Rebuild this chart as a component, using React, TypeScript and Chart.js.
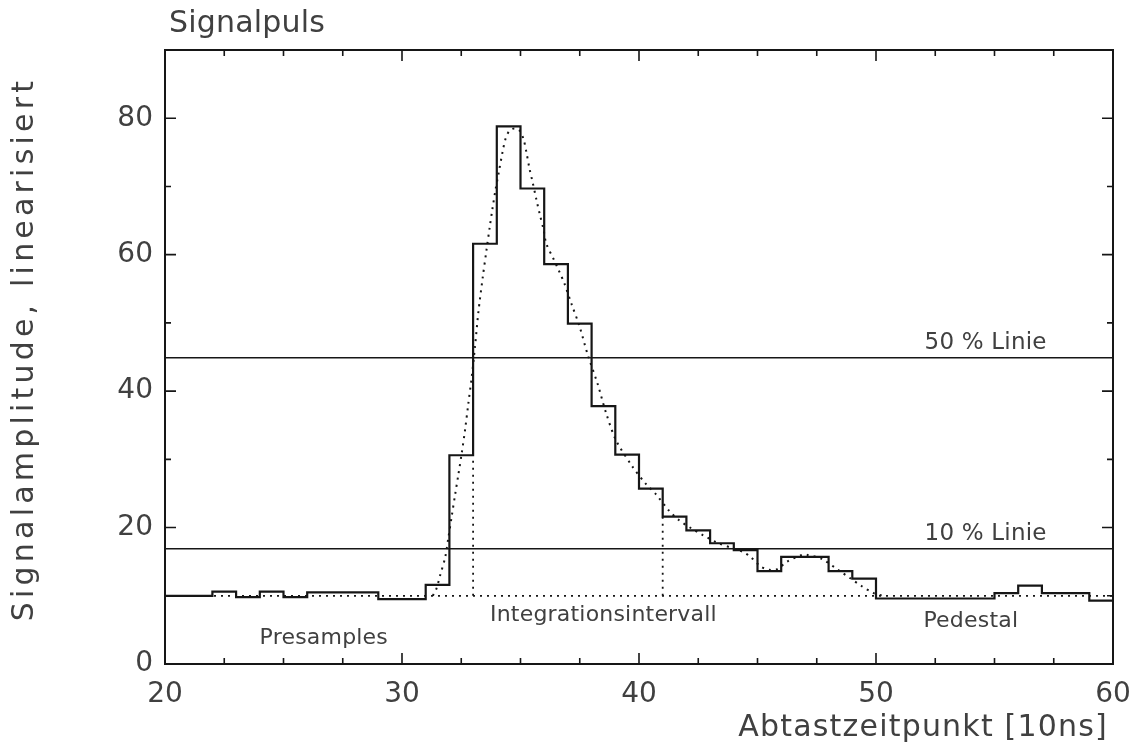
import React, { useEffect, useRef } from 'react';
import { Chart, registerables } from 'chart.js';

Chart.register(...registerables);

// ---- data ----
const sampleTimes = [
  20, 21, 22, 23, 24, 25, 26, 27, 28, 29,
  30, 31, 32, 33, 34, 35, 36, 37, 38, 39,
  40, 41, 42, 43, 44, 45, 46, 47, 48, 49,
  50, 51, 52, 53, 54, 55, 56, 57, 58, 59,
];
const amplitude = [
  10.0, 10.0, 10.6, 9.8, 10.6, 9.8, 10.5, 10.5, 10.5, 9.5,
  9.5, 11.6, 30.6, 61.6, 78.8, 69.7, 58.6, 49.9, 37.8, 30.7,
  25.7, 21.6, 19.6, 17.7, 16.7, 13.6, 15.7, 15.7, 13.6, 12.5,
  9.6, 9.6, 9.6, 9.6, 9.6, 10.4, 11.5, 10.4, 10.4, 9.3,
];
const histEnd = 60;

const fitX = [
  31.3, 31.45, 31.61, 31.82, 31.96, 32.1, 32.24, 32.38, 32.52, 32.66,
  32.8, 32.94, 33.08, 33.22, 33.4, 33.57, 33.7, 33.82, 33.95, 34.08,
  34.24, 34.37, 34.54, 34.75, 34.96, 35.13, 35.25, 35.38, 35.5, 35.67,
  35.8, 35.97, 36.09, 36.39, 36.64, 36.85, 37.15, 37.48, 37.84, 38.26,
  38.61, 39.03, 39.73, 40.29, 40.71, 41.26, 41.68, 42.2, 42.69, 43.3,
  44.0, 44.4, 44.71, 45.13, 45.5, 45.83, 46.25, 46.88, 47.08, 47.71,
  48.4, 48.9, 49.4, 49.9, 50.3,
];
const fitY = [
  10.0, 11.0, 13.0, 15.6, 18.6, 21.7, 24.8, 27.8, 30.9, 34.3,
  38.2, 42.0, 46.5, 51.5, 56.5, 60.8, 64.0, 66.8, 69.6, 72.0,
  75.0, 77.0, 78.2, 78.5, 78.2, 76.9, 75.0, 72.6, 70.8, 68.1,
  66.1, 63.7, 61.6, 59.4, 57.5, 55.8, 52.8, 49.6, 45.3, 41.0,
  36.8, 32.8, 28.9, 26.4, 24.9, 22.5, 21.1, 19.9, 18.9, 17.8,
  16.9, 16.4, 15.7, 14.3, 13.8, 13.9, 15.0, 16.0, 16.0, 15.4,
  13.8, 12.6, 11.4, 10.4, 10.0,
];

const pedestal = 10.0;
const line50 = 44.9;
const line10 = 16.9;
const integrationStart = 33;
const integrationEnd = 41;

const X_MIN = 20;
const X_MAX = 60;
const X_STEP = 10;
const X_MINOR = 2.5;
const Y_MIN = 0;
const Y_MAX = 90;
const Y_STEP = 20;
const Y_MINOR = 10;
const Y_LABEL_MAX = 80;

const chartTitle = 'Signalpuls';
const xTitle = 'Abtastzeitpunkt [10ns]';
const yTitle = 'Signalamplitude, linearisiert';
const labels = [
  { text: 'Presamples', x: 26.7, y: 3.7 },
  { text: 'Integrationsintervall', x: 38.5, y: 7.1 },
  { text: 'Pedestal', x: 54.0, y: 6.2 },
];
const lineLabels = [
  { text: '50 % Linie', x: 57.2, y: line50 },
  { text: '10 % Linie', x: 57.2, y: line10 },
];

const FONT = '"DejaVu Sans", sans-serif';
const INK = '#161616';
const TEXT = '#404040';

function drawText(
  ctx: CanvasRenderingContext2D,
  text: string,
  x: number,
  y: number,
  size: number,
  spacing: number,
  align: CanvasTextAlign,
  rotate = 0
) {
  ctx.save();
  ctx.translate(x, y);
  if (rotate) ctx.rotate(rotate);
  ctx.font = `${size}px ${FONT}`;
  (ctx as any).letterSpacing = `${spacing}px`;
  ctx.fillStyle = TEXT;
  ctx.textAlign = align;
  ctx.textBaseline = 'middle';
  ctx.fillText(text, 0, 0);
  ctx.restore();
}

const decorPlugin = {
  id: 'decor',
  afterDatasetsDraw(chart: any) {
    const { ctx, chartArea } = chart;
    const { left, right, top, bottom } = chartArea;
    const xs = chart.scales.x;
    const ys = chart.scales.y;
    ctx.save();
    ctx.strokeStyle = INK;
    ctx.lineWidth = 2;
    ctx.strokeRect(left, top, right - left, bottom - top);
    ctx.lineWidth = 1.6;
    ctx.beginPath();
    for (let v = X_MIN + X_MINOR; v < X_MAX - 1e-6; v += X_MINOR) {
      const px = xs.getPixelForValue(v);
      const len = Math.abs(v / X_STEP - Math.round(v / X_STEP)) < 1e-6 ? 11 : 6;
      ctx.moveTo(px, bottom);
      ctx.lineTo(px, bottom - len);
      ctx.moveTo(px, top);
      ctx.lineTo(px, top + len);
    }
    for (let v = Y_MIN + Y_MINOR; v < Y_MAX - 1e-6; v += Y_MINOR) {
      const py = ys.getPixelForValue(v);
      const len = Math.abs(v / Y_STEP - Math.round(v / Y_STEP)) < 1e-6 ? 11 : 6;
      ctx.moveTo(left, py);
      ctx.lineTo(left + len, py);
      ctx.moveTo(right, py);
      ctx.lineTo(right - len, py);
    }
    ctx.stroke();
    ctx.restore();
  },
  afterDraw(chart: any) {
    const { ctx, chartArea } = chart;
    const xs = chart.scales.x;
    const ys = chart.scales.y;
    drawText(ctx, chartTitle, chartArea.left + 4, 24, 30, 0.2, 'left');
    drawText(ctx, xTitle, chartArea.right - 5, 728, 30, 1.2, 'right');
    drawText(ctx, yTitle, 25, 349, 30, 4.2, 'center', -Math.PI / 2);
    for (const l of labels) {
      drawText(ctx, l.text, xs.getPixelForValue(l.x), ys.getPixelForValue(l.y), 22, 0.2, 'center');
    }
    for (const l of lineLabels) {
      drawText(ctx, l.text, xs.getPixelForValue(l.x), ys.getPixelForValue(l.y) - 15, 23, 0.2, 'right');
    }
  },
};

export default function App() {
  const ref = useRef<HTMLCanvasElement>(null);

  useEffect(() => {
    if (!ref.current) return;
    const histData = sampleTimes.map((t, i) => ({ x: t, y: amplitude[i] }));
    histData.push({ x: histEnd, y: amplitude[amplitude.length - 1] });

    const fitData = fitX.map((x, i) => ({ x, y: fitY[i] }));

    const levelAt = (t: number) => {
      const i = sampleTimes.indexOf(t);
      return Math.min(amplitude[i], amplitude[i - 1]);
    };

    const dotted = [2, 5];

    const chart = new Chart(ref.current, {
      type: 'line',
      data: {
        datasets: [
          {
            label: 'Pedestal',
            data: [
              { x: X_MIN, y: pedestal },
              { x: X_MAX, y: pedestal },
            ],
            borderColor: INK,
            borderWidth: 1.8,
            borderDash: dotted,
            pointRadius: 0,
          },
          {
            label: 'Integration start',
            data: [
              { x: integrationStart, y: pedestal },
              { x: integrationStart, y: levelAt(integrationStart) },
            ],
            borderColor: INK,
            borderWidth: 1.8,
            borderDash: dotted,
            pointRadius: 0,
          },
          {
            label: 'Integration end',
            data: [
              { x: integrationEnd, y: pedestal },
              { x: integrationEnd, y: levelAt(integrationEnd) },
            ],
            borderColor: INK,
            borderWidth: 1.8,
            borderDash: dotted,
            pointRadius: 0,
          },
          {
            label: '50 % Linie',
            data: [
              { x: X_MIN, y: line50 },
              { x: X_MAX, y: line50 },
            ],
            borderColor: INK,
            borderWidth: 1.6,
            pointRadius: 0,
          },
          {
            label: '10 % Linie',
            data: [
              { x: X_MIN, y: line10 },
              { x: X_MAX, y: line10 },
            ],
            borderColor: INK,
            borderWidth: 1.6,
            pointRadius: 0,
          },
          {
            label: 'Fit',
            data: fitData,
            borderColor: INK,
            borderWidth: 2,
            borderDash: dotted,
            pointRadius: 0,
            tension: 0.3,
          },
          {
            label: 'Signalpuls',
            data: histData,
            stepped: 'before',
            borderColor: INK,
            borderWidth: 2.2,
            pointRadius: 0,
          },
        ],
      },
      options: {
        animation: false,
        responsive: false,
        devicePixelRatio: 1,
        layout: { padding: { top: 50, right: 17, bottom: 0, left: 0 } },
        plugins: {
          legend: { display: false },
          tooltip: { enabled: false },
          title: { display: false },
        },
        scales: {
          x: {
            type: 'linear',
            min: X_MIN,
            max: X_MAX,
            grid: { display: false, drawTicks: false },
            border: { display: false },
            ticks: {
              stepSize: X_STEP,
              padding: 14,
              maxRotation: 0,
              autoSkip: false,
              color: TEXT,
              font: { family: FONT, size: 28 },
            },
            afterFit: (s: any) => {
              s.height = 91;
              s.paddingLeft = 0;
              s.paddingRight = 0;
            },
          },
          y: {
            type: 'linear',
            min: Y_MIN,
            max: Y_MAX,
            bounds: 'data',
            grid: { display: false, drawTicks: false },
            border: { display: false },
            ticks: {
              stepSize: Y_STEP,
              includeBounds: false,
              padding: 12,
              color: TEXT,
              font: { family: FONT, size: 28 },
              callback: (v: any) => (v <= Y_LABEL_MAX ? String(v) : null),
            },
            afterFit: (s: any) => {
              s.width = 165;
              s.paddingTop = 0;
              s.paddingBottom = 0;
            },
          },
        },
      } as any,
      plugins: [decorPlugin],
    });
    return () => chart.destroy();
  }, []);

  return (
    <div style={{ position: 'absolute', left: 0, top: 0, width: 1130, height: 755, background: '#fff' }}>
      <canvas ref={ref} width={1130} height={755} />
    </div>
  );
}
